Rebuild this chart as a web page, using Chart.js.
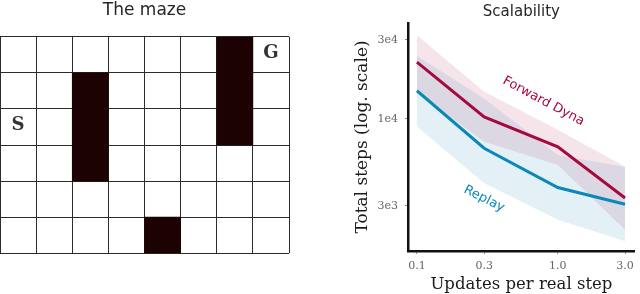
<!DOCTYPE html>
<html><head><meta charset="utf-8">
<script src="https://cdn.jsdelivr.net/npm/chart.js@4.4.1/dist/chart.umd.min.js"></script>
<style>
html,body{margin:0;padding:0;background:#fff;width:640px;height:294px;overflow:hidden}
#maze{position:absolute;left:0;top:0}
#scal{position:absolute;left:340px;top:0}
</style></head><body>
<canvas id="maze" width="300" height="294"></canvas>
<canvas id="scal" width="300" height="294"></canvas>
<script>
// ---- maze data ----
const mazeColumns = ['0','1','2','3','4','5','6','7'];
const mazeRowCount = 6;
const wallStartRow = [null, null, 1, null, 5, null, 0, null];
const wallEndRow   = [null, null, 4, null, 6, null, 3, null];
const markerLabels = ['S', 'G'];
const markerCols = [0, 7];
const markerRows = [2, 0];

// ---- scalability data ----
const updatesPerStep = [0.1, 0.3, 1.0, 3.0];
const xTickLabels = ['0.1', '0.3', '1.0', '3.0'];
const yTickValues = [3000, 10000, 30000];
const yTickLabels = ['3e3', '1e4', '3e4'];
const forwardDynaMean  = [22000, 10300, 6800, 3340];
const forwardDynaUpper = [32000, 14600, 8600, 5160];
const forwardDynaLower = [14500, 7300, 5280, 2150];
const replayMean  = [14800, 6660, 3860, 3060];
const replayUpper = [24000, 13300, 6070, 5130];
const replayLower = [9000, 4100, 2470, 1830];
const seriesLabels = ['Forward Dyna', 'Replay'];
const seriesLabelX = [0.79, 0.30];
const seriesLabelY = [12800, 3300];

Chart.defaults.devicePixelRatio = 1;

const RED = '#a6093d', BLUE = '#0a88ba';

const markerPlugin = {
  id: 'markers',
  afterDatasetsDraw(chart) {
    const {ctx, scales: {x, y}} = chart;
    ctx.save();
    ctx.font = 'bold 18px "DejaVu Serif"';
    ctx.fillStyle = '#333333';
    ctx.textAlign = 'center';
    ctx.textBaseline = 'middle';
    markerLabels.forEach((t, i) => {
      ctx.fillText(t, x.getPixelForValue(markerCols[i]), y.getPixelForValue(markerRows[i] + 0.5) - 1.5);
    });
    ctx.restore();
  }
};

new Chart(document.getElementById('maze'), {
  type: 'bar',
  data: {
    labels: mazeColumns,
    datasets: [{
      data: wallStartRow.map((s, i) => s === null ? null : [s, wallEndRow[i]]),
      backgroundColor: '#1c0202',
      borderWidth: 0,
      barPercentage: 1,
      categoryPercentage: 1
    }]
  },
  options: {
    responsive: false, animation: false, events: [],
    layout: {padding: {left: 0, right: 11, top: 0, bottom: 40.7}},
    plugins: {
      legend: {display: false}, tooltip: {enabled: false},
      title: {display: true, text: 'The maze', color: '#262626',
        font: {family: 'DejaVu Sans', size: 17, weight: 'normal', lineHeight: 1.2},
        padding: {top: 0.8, bottom: 15.5}}
    },
    scales: {
      x: {type: 'category', offset: true,
        grid: {offset: true, color: '#2b2b2b', lineWidth: 1, drawTicks: false},
        border: {display: false}, ticks: {display: false},
        afterFit: s => { s.height = 0; }},
      y: {type: 'linear', min: 0, max: mazeRowCount, reverse: true,
        ticks: {display: false, stepSize: 1},
        grid: {color: '#2b2b2b', lineWidth: 1, drawTicks: false},
        border: {display: false},
        afterFit: s => { s.width = 0; }}
    }
  },
  plugins: [markerPlugin]
});

const seriesLabelPlugin = {
  id: 'seriesLabels',
  afterDatasetsDraw(chart) {
    const {ctx, scales: {x, y}} = chart;
    const colors = [RED, BLUE];
    const rot = [28, 27];
    ctx.save();
    ctx.font = '13px "DejaVu Sans"';
    ctx.textAlign = 'center';
    ctx.textBaseline = 'middle';
    seriesLabels.forEach((t, i) => {
      ctx.save();
      ctx.translate(x.getPixelForValue(seriesLabelX[i]), y.getPixelForValue(seriesLabelY[i]));
      ctx.rotate(rot[i] * Math.PI / 180);
      ctx.fillStyle = colors[i];
      ctx.fillText(t, 0, 0);
      ctx.restore();
    });
    ctx.restore();
  }
};

const pts = arr => updatesPerStep.map((x, i) => ({x: x, y: arr[i]}));
const band = {borderColor: 'transparent', borderWidth: 0, pointRadius: 0, tension: 0};

new Chart(document.getElementById('scal'), {
  type: 'line',
  data: {datasets: [
    {label: seriesLabels[0], data: pts(forwardDynaMean), borderColor: RED, borderWidth: 3, pointRadius: 0, fill: false},
    {label: seriesLabels[1], data: pts(replayMean), borderColor: BLUE, borderWidth: 3, pointRadius: 0, fill: false},
    Object.assign({data: pts(forwardDynaUpper), fill: false}, band),
    Object.assign({data: pts(forwardDynaLower), fill: 2, backgroundColor: 'rgba(166,9,61,0.11)'}, band),
    Object.assign({data: pts(replayUpper), fill: false}, band),
    Object.assign({data: pts(replayLower), fill: 4, backgroundColor: 'rgba(10,136,186,0.115)'}, band)
  ]},
  options: {
    responsive: false, animation: false, events: [],
    layout: {padding: {left: 0, right: 3, top: 0, bottom: 0}},
    plugins: {
      legend: {display: false}, tooltip: {enabled: false},
      title: {display: true, fullSize: false, text: 'Scalability', color: '#262626',
        font: {family: 'DejaVu Sans', size: 15, weight: 'normal', lineHeight: 1.2},
        padding: {top: 3.3, bottom: 1.7}}
    },
    scales: {
      x: {type: 'logarithmic', min: 0.0864, max: 3.52, bounds: 'data',
        afterBuildTicks: s => { s.ticks = updatesPerStep.map(v => ({value: v})); },
        ticks: {callback: (v, i) => xTickLabels[i], font: {family: 'DejaVu Serif', size: 11},
          color: '#666666', padding: 6, maxRotation: 0, autoSkip: false},
        grid: {display: true, drawOnChartArea: false, drawTicks: true, tickLength: 3, color: '#888888', lineWidth: 1},
        border: {display: true, color: '#111111', width: 2.5},
        title: {display: true, text: 'Updates per real step', color: '#1a1a1a',
          font: {family: 'DejaVu Serif', size: 16.5, lineHeight: 1}, padding: {top: 0, bottom: 1.1}},
        afterFit: s => { s.height = 43; }},
      y: {type: 'logarithmic', min: 1600, max: 37900, bounds: 'data',
        afterBuildTicks: s => { s.ticks = yTickValues.map(v => ({value: v})); },
        ticks: {callback: (v, i) => yTickLabels[i], font: {family: 'DejaVu Serif', size: 11},
          color: '#666666', padding: 7, autoSkip: false},
        grid: {display: true, drawOnChartArea: false, drawTicks: true, tickLength: 3, color: '#888888', lineWidth: 1},
        border: {display: true, color: '#111111', width: 2.5},
        title: {display: true, text: 'Total steps (log. scale)', color: '#1a1a1a',
          font: {family: 'DejaVu Serif', size: 17, lineHeight: 1}, padding: {top: 14.5, bottom: 0}},
        afterFit: s => { s.width = 68; }}
    }
  },
  plugins: [seriesLabelPlugin]
});
</script>
</body></html>
